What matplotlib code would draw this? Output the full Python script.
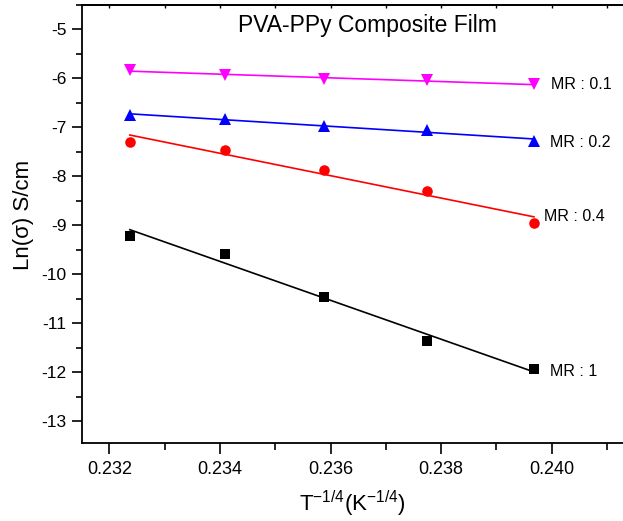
import numpy as np
import matplotlib
matplotlib.use("Agg")
import matplotlib.pyplot as plt
from matplotlib.ticker import MultipleLocator

plt.rcParams['font.family'] = ['Liberation Sans', 'DejaVu Sans']
plt.rcParams['axes.unicode_minus'] = False
plt.rcParams['mathtext.fontset'] = 'custom'
plt.rcParams['mathtext.rm'] = 'Liberation Sans'
plt.rcParams['mathtext.it'] = 'Liberation Sans'

# Data: T^(-1/4) values and ln(sigma) for each molar ratio
x_vals = [0.23237, 0.23409, 0.23588, 0.23774, 0.23968]
mr_01 = [-5.83, -5.93, -6.01, -6.04, -6.12]
mr_02 = [-6.75, -6.82, -6.97, -7.06, -7.27]
mr_04 = [-7.29, -7.46, -7.87, -8.30, -8.95]
mr_1 = [-9.21, -9.575, -10.46, -11.37, -11.94]
series_labels = ["MR : 0.1", "MR : 0.2", "MR : 0.4", "MR : 1"]
title_text = "PVA-PPy Composite Film"

W, H = 623, 521
fig = plt.figure(figsize=(W / 100, H / 100), dpi=100)
ax_l, ax_r, ax_t, ax_b = 81.7, 623.0, 5.0, 443.3
ax = fig.add_axes([ax_l / W, 1 - ax_b / H, (ax_r - ax_l) / W, (ax_b - ax_t) / H])

styles = [
    (mr_01, '#FF00FF', 'v', 9),
    (mr_02, '#0000FF', '^', 9),
    (mr_04, '#FF0000', 'o', 7.6),
    (mr_1, '#000000', 's', 7),
]
xa = np.array(x_vals)
for ys, c, m, ms in styles:
    ya = np.array(ys)
    ax.plot(xa, ya, linestyle='none', marker=m, color=c, markersize=ms,
            markeredgewidth=0, zorder=3)
    k, b = np.polyfit(xa, ya, 1)
    ax.plot(xa[[0, -1]], k * xa[[0, -1]] + b, color=c, lw=1.2, zorder=2)

# series labels (positions in data coords)
label_pos = [(0.23999, -6.211), (0.23997, -7.396), (0.23987, -8.901), (0.23997, -12.067)]
for (lx, ly), txt in zip(label_pos, series_labels):
    ax.text(lx, ly, txt, fontsize=11.5, ha='left', va='baseline')

ax.text(0.23667, -5 - (32.7 - 30) / 48.96, title_text, fontsize=16.5,
        ha='center', va='baseline')

ax.set_xlim(0.2315, 0.24129)
ax.set_ylim(-13.45, -4.5)
ax.xaxis.set_major_locator(MultipleLocator(0.002))
ax.xaxis.set_minor_locator(MultipleLocator(0.001))
ax.yaxis.set_major_locator(MultipleLocator(1))
ax.yaxis.set_minor_locator(MultipleLocator(0.5))
ax.xaxis.set_major_formatter(matplotlib.ticker.FormatStrFormatter('%.3f'))

for s in ['left', 'bottom', 'top']:
    ax.spines[s].set_linewidth(1.3)
ax.spines['right'].set_visible(False)

ax.tick_params(axis='x', which='major', direction='out', length=8, width=1.2,
               labelsize=13, pad=5, top=False)
ax.tick_params(axis='x', which='minor', direction='out', length=5, width=1.2, top=False)
ax.tick_params(axis='y', which='major', direction='out', length=7, width=1.2,
               labelsize=12.5, pad=4)
ax.tick_params(axis='y', which='minor', direction='out', length=4, width=1.2)

# top secondary ticks (short, inward)
sec = ax.secondary_xaxis('top')
sec.xaxis.set_major_locator(MultipleLocator(0.001))
sec.tick_params(direction='in', length=2.5, width=1.0, labeltop=False)
sec.spines['top'].set_linewidth(1.3)

ax.set_xlabel(r'T$^{\mathregular{-1/4}}$(K$^{\mathregular{-1/4}}$)', fontsize=16,
              va='baseline')
ax.xaxis.set_label_coords(0.5, -(511 - ax_b) / (ax_b - ax_t))
ax.set_ylabel('Ln(σ) S/cm', fontsize=16)
ax.yaxis.set_label_coords((34 - ax_l) / (ax_r - ax_l), (ax_b - 215) / (ax_b - ax_t))

fig.savefig('out.png', dpi=100)
